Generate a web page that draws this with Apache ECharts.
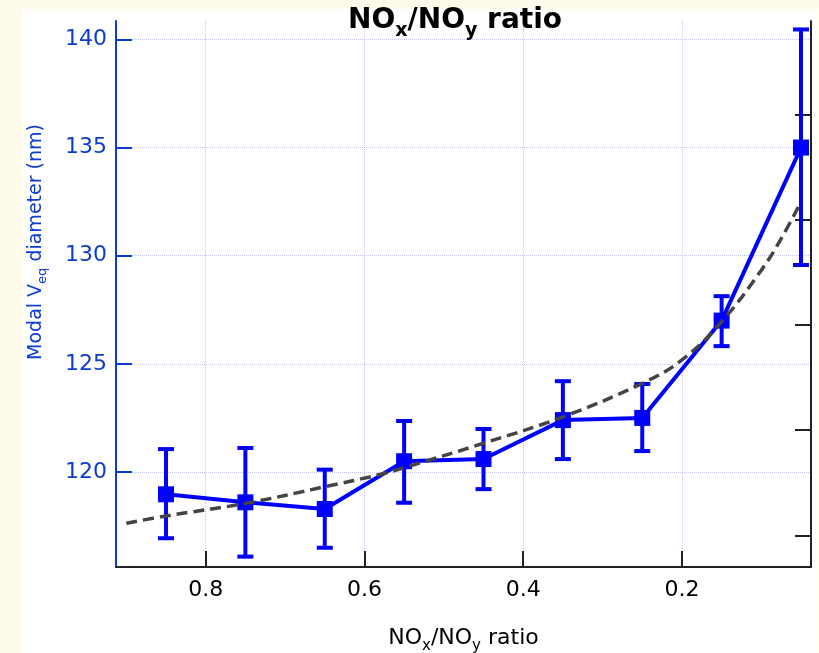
<!DOCTYPE html>
<html>
<head>
<meta charset="utf-8">
<script src="https://cdn.jsdelivr.net/npm/echarts@6/dist/echarts.min.js"></script>
<style>html,body{margin:0;padding:0;background:#fffbeb;}#c{width:819px;height:653px;}</style>
</head>
<body>
<div id="c"></div>
<script>
// ---- data ----
const ratioX = [0.85, 0.75, 0.65, 0.55, 0.45, 0.35, 0.25, 0.15, 0.05];
const diameter = [118.97, 118.6, 118.29, 120.5, 120.6, 122.4, 122.5, 127.0, 135.0];
const errLow = [116.94, 116.09, 116.5, 118.58, 119.21, 120.6, 120.97, 125.82, 129.57];
const errHigh = [121.06, 121.11, 120.11, 122.36, 121.99, 124.2, 124.07, 128.13, 140.46];
const fitX = [0.90, 0.85, 0.75, 0.65, 0.58, 0.55, 0.45, 0.35, 0.25, 0.20, 0.15, 0.10, 0.076, 0.05];
const fitY = [117.63, 117.97, 118.55, 119.32, 119.89, 120.2, 121.33, 122.55, 124.1, 125.18, 126.95, 129.33, 130.72, 132.49];
const xTicks = [0.2, 0.4, 0.6, 0.8];
const yTicks = [120, 125, 130, 135, 140];
const rightTicks = [0.3, 1.3, 2.3, 3.3, 4.3];

const FONT = 'DejaVu Sans';
const BLUE = '#0000ff';
const AXBLUE = '#0c3ccf';

const mainData = ratioX.map((x, i) => [x, diameter[i]]);
const errData = ratioX.map((x, i) => [x, errLow[i], errHigh[i]]);
const fitData = fitX.map((x, i) => [x, fitY[i]]);

const chart = echarts.init(document.getElementById('c'), null, {renderer: 'canvas'});
chart.setOption({
  animation: false,
  backgroundColor: '#fffbeb',
  graphic: [{
    type: 'rect', z: -100, silent: true,
    shape: {x: 23, y: 9, width: 794, height: 644},
    style: {fill: '#ffffff'}
  }],
  title: {
    text: '{b|NO}{s|x}{b|/NO}{s|y}{b| ratio}',
    left: 455, top: 4, padding: 0, textAlign: 'center',
    textStyle: {
      rich: {
        b: {fontFamily: FONT, fontSize: 28, fontWeight: 'bold', color: '#000', lineHeight: 34},
        s: {fontFamily: FONT, fontSize: 19, fontWeight: 'bold', color: '#000', lineHeight: 19, padding: [20, 0, 0, 0]}
      }
    }
  },
  grid: {left: 116, right: 8, top: 21, bottom: 86, containLabel: false, outerBoundsMode: 'none'},
  xAxis: {
    type: 'value', inverse: true, min: 0.0374, max: 0.913,
    name: '{m|NO}{s|x}{m|/NO}{s|y}{m| ratio}',
    nameLocation: 'middle', nameGap: 58,
    nameTextStyle: {
      rich: {
        m: {fontFamily: FONT, fontSize: 22, color: '#000', lineHeight: 26},
        s: {fontFamily: FONT, fontSize: 15, color: '#000', lineHeight: 15, padding: [17, 0, 0, 0]}
      }
    },
    axisLine: {show: true, onZero: false, lineStyle: {color: '#222', width: 2}},
    axisTick: {show: true, inside: true, length: 16, customValues: xTicks, lineStyle: {color: '#222', width: 2}},
    axisLabel: {customValues: xTicks, fontFamily: FONT, fontSize: 22, color: '#000', margin: 12},
    splitLine: {show: true, lineStyle: {color: '#c2c2f8', type: 'dotted', width: 1}}
  },
  yAxis: [{
    type: 'value', min: 115.61, max: 140.85, position: 'left',
    name: '{m|Modal V}{s|eq}{m| diameter (nm)}',
    nameLocation: 'middle', nameGap: 68, nameRotate: 90,
    nameTextStyle: {
      padding: [0, 0, 0, 104],
      rich: {
        m: {fontFamily: FONT, fontSize: 19, color: AXBLUE, lineHeight: 23},
        s: {fontFamily: FONT, fontSize: 13, color: AXBLUE, lineHeight: 13, padding: [13, 0, 0, 0]}
      }
    },
    axisLine: {show: true, onZero: false, lineStyle: {color: AXBLUE, width: 2}},
    axisTick: {show: true, inside: true, length: 16, customValues: yTicks, lineStyle: {color: AXBLUE, width: 2}},
    axisLabel: {customValues: yTicks, fontFamily: FONT, fontSize: 22, color: AXBLUE, margin: 9},
    splitLine: {show: true, lineStyle: {color: '#c2c2f8', type: 'dotted', width: 1}}
  }, {
    type: 'value', min: 0, max: 5.19, position: 'right',
    axisLine: {show: true, onZero: false, lineStyle: {color: '#222', width: 2}},
    axisTick: {show: true, inside: true, length: 16, customValues: rightTicks, lineStyle: {color: '#222', width: 2}},
    axisLabel: {show: false, customValues: rightTicks},
    splitLine: {show: false}
  }],
  series: [{
    type: 'custom', name: 'err', z: 3,
    data: errData,
    encode: {x: 0, y: [1, 2]},
    renderItem: function (params, api) {
      const x = api.value(0);
      const lo = api.coord([x, api.value(1)]);
      const hi = api.coord([x, api.value(2)]);
      const hw = 8;
      const st = {stroke: BLUE, lineWidth: 4};
      return {
        type: 'group',
        children: [
          {type: 'line', shape: {x1: lo[0], y1: lo[1], x2: hi[0], y2: hi[1]}, style: st},
          {type: 'line', shape: {x1: lo[0] - hw, y1: lo[1], x2: lo[0] + hw, y2: lo[1]}, style: st},
          {type: 'line', shape: {x1: hi[0] - hw, y1: hi[1], x2: hi[0] + hw, y2: hi[1]}, style: st}
        ]
      };
    }
  }, {
    type: 'line', name: 'diameter', z: 4,
    data: mainData,
    symbol: 'rect', symbolSize: 16,
    itemStyle: {color: BLUE},
    lineStyle: {color: BLUE, width: 4}
  }, {
    type: 'line', name: 'fit', z: 5,
    data: fitData, smooth: 0.4,
    showSymbol: false, symbol: 'none',
    lineStyle: {color: '#444', width: 3.5, type: [11, 6]}
  }]
});
</script>
</body>
</html>
